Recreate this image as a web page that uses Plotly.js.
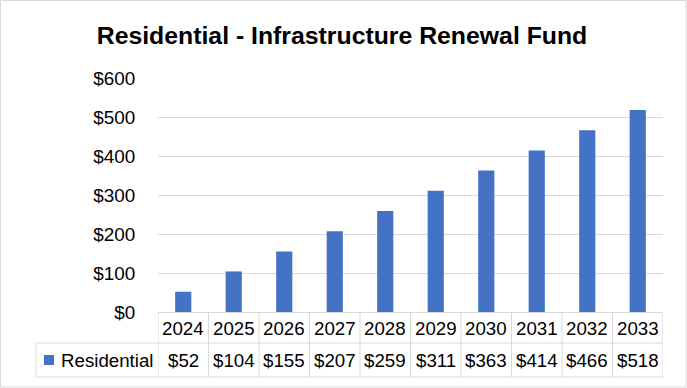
<!DOCTYPE html>
<html>
<head>
<meta charset="utf-8">
<script src="https://cdn.plot.ly/plotly-3.0.1.min.js"></script>
<style>
html,body{margin:0;padding:0;background:#fff;}
#chart{width:687px;height:388px;}
</style>
</head>
<body>
<div id="chart"></div>
<script>
const categories = ['2024','2025','2026','2027','2028','2029','2030','2031','2032','2033'];
const seriesName = 'Residential';
const values = [52, 104, 155, 207, 259, 311, 363, 414, 466, 518];
const yTicks = [0, 100, 200, 300, 400, 500, 600];
const yTickLabels = ['$0','$100','$200','$300','$400','$500','$600'];
const titleText = 'Residential - Infrastructure Renewal Fund';

const W = 687, H = 388;
const L = 158, R = 663, T = 78, B = 312;
const ph = B - T, pw = R - L;
const py = v => (B - v) / ph;      // pixel y -> paper y
const px = v => (v - L) / pw;      // pixel x -> paper x

const gridColor = '#d9d9d9';
const tf = {family: 'Liberation Sans, Arial, sans-serif', size: 18.7, color: '#000'};

const yRow1Top = py(313), yRow1Bot = py(343), yRow2Bot = py(377);
const legLeft = px(36);

const shapes = [];
const n = categories.length;
// vertical cell borders
for (let i = 0; i <= n; i++) {
  shapes.push({type:'line', xref:'x', yref:'paper', x0:i-0.5, x1:i-0.5, y0:yRow1Top, y1:yRow2Bot,
    line:{color:gridColor, width:1}});
}
// horizontal borders
shapes.push({type:'line', xref:'paper', yref:'paper', x0:legLeft, x1:1, y0:yRow1Bot, y1:yRow1Bot, line:{color:gridColor, width:1}});
shapes.push({type:'line', xref:'paper', yref:'paper', x0:legLeft, x1:1, y0:yRow2Bot, y1:yRow2Bot, line:{color:gridColor, width:1}});
shapes.push({type:'line', xref:'paper', yref:'paper', x0:legLeft, x1:legLeft, y0:yRow1Bot, y1:yRow2Bot, line:{color:gridColor, width:1}});
// legend key square
shapes.push({type:'rect', xref:'paper', yref:'paper', x0:px(44), x1:px(54), y0:py(355), y1:py(365),
  fillcolor:'#4472C4', line:{width:0}});
// outer chart border
shapes.push({type:'rect', xref:'paper', yref:'paper', x0:px(0.5), x1:px(686), y0:py(0.5), y1:py(387),
  line:{color:gridColor, width:1}, fillcolor:'rgba(0,0,0,0)'});

const annotations = [];
categories.forEach((c, i) => {
  annotations.push({xref:'x', yref:'paper', x:i, y:py(328.5), text:c, showarrow:false,
    xanchor:'center', yanchor:'middle', font:tf});
  annotations.push({xref:'x', yref:'paper', x:i, y:py(360.5), text:'$' + values[i], showarrow:false,
    xanchor:'center', yanchor:'middle', font:tf});
});
annotations.push({xref:'paper', yref:'paper', x:px(59), y:py(360.5), text:seriesName, showarrow:false,
  xanchor:'left', yanchor:'middle', font:tf});

const data = [{
  type:'bar', x:categories, y:values, name:seriesName,
  marker:{color:'#4472C4'}, hoverinfo:'x+y'
}];

const layout = {
  width:W, height:H,
  margin:{l:L, r:W-R, t:T, b:H-B, pad:0},
  paper_bgcolor:'#fff', plot_bgcolor:'#fff',
  showlegend:false,
  bargap:0.68,
  title:{text:'<b>' + titleText + '</b>', x:342/W, xref:'container', xanchor:'center', y:1-35/H, yref:'container', yanchor:'middle',
    font:{family:'Liberation Sans, Arial, sans-serif', size:24.8, color:'#000'}},
  xaxis:{type:'category', range:[-0.5, n-0.5], showticklabels:false, showgrid:false, zeroline:false,
    showline:false, ticks:'', fixedrange:true},
  yaxis:{range:[0,600], tickvals:yTicks, ticktext:yTickLabels, showgrid:true, gridcolor:gridColor, gridwidth:1,
    zeroline:true, zerolinecolor:gridColor, zerolinewidth:1, showline:false,
    ticks:'outside', ticklen:18, tickcolor:'rgba(0,0,0,0)', tickfont:{family:'Liberation Sans, Arial, sans-serif', size:18.9, color:'#000'},
    fixedrange:true},
  shapes:shapes,
  annotations:annotations
};

Plotly.newPlot('chart', data, layout, {displayModeBar:false, staticPlot:true});
</script>
</body>
</html>
